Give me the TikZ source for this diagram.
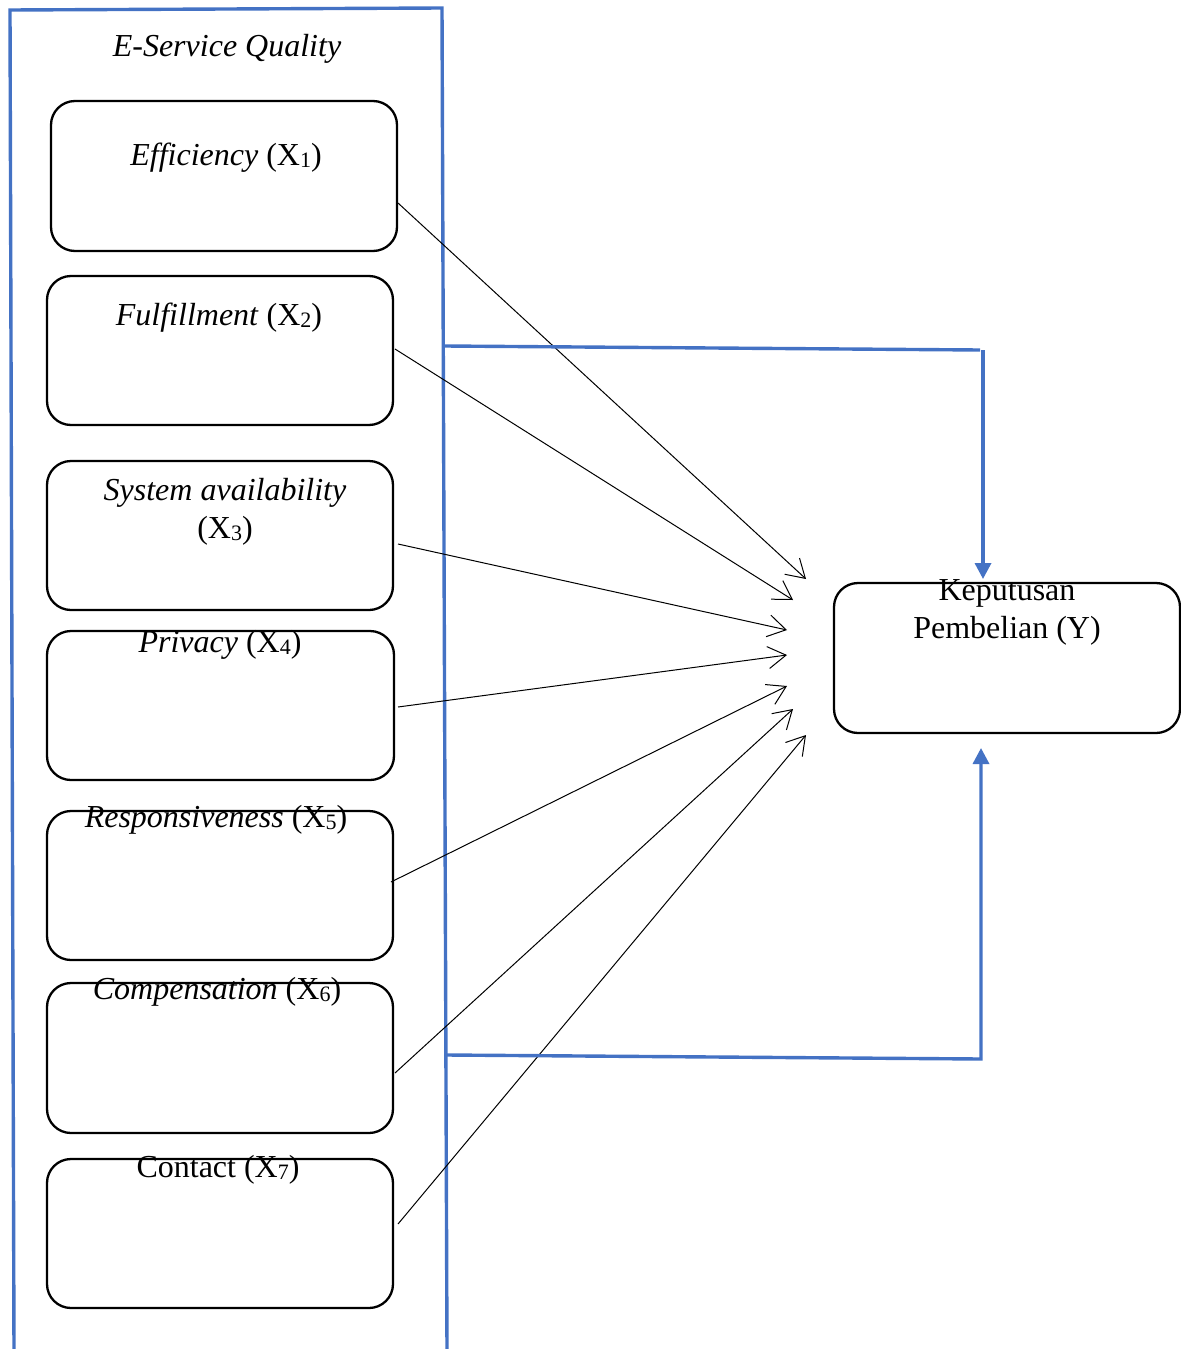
\documentclass[tikz,border=0pt]{standalone}
\usepackage{fontspec}
\setmainfont{Liberation Serif}
\usetikzlibrary{arrows.meta,calc}
\definecolor{wblue}{HTML}{4472C4}
\newcommand{\sub}[1]{\raisebox{-0.12ex}{\fontsize{11}{11}\selectfont #1}}
\begin{document}
\begin{tikzpicture}[x=0.5pt,y=-0.5pt,
  box/.style={draw,line width=1.15pt,rounded corners=12pt},
  lab/.style={font=\fontsize{16}{19}\selectfont,inner sep=0pt,anchor=center,align=center},
  link/.style={line width=0.5pt,-{Straight Barb[length=9pt,width=11pt]}},
  blue/.style={draw=wblue,line width=1.7pt},
  barrow/.style={wblue,line width=1.7pt,-{Triangle[length=8pt,width=8pt]}}]
\useasboundingbox (0,0) rectangle (1181,1349);
% frame
\draw[blue] (14,1352) -- (10,10) -- (442,8) -- (447,1352);
\node[lab] (title) at (227,49) {\itshape E-Service Quality};
% boxes
\draw[box] (51,101) rectangle (397,251) node[pos=0.5] (x1) {};
\draw[box] (47,276) rectangle (393,425) node[pos=0.5] (x2) {};
\draw[box] (47,461) rectangle (393,610) node[pos=0.5] (x3) {};
\draw[box] (47,631) rectangle (394,780) node[pos=0.5] (x4) {};
\draw[box] (47,811) rectangle (393,960) node[pos=0.5] (x5) {};
\draw[box] (47,983) rectangle (393,1133) node[pos=0.5] (x6) {};
\draw[box] (47,1159) rectangle (393,1308) node[pos=0.5] (x7) {};
\draw[box] (834,583) rectangle (1180,733) node[pos=0.5] (y) {};
% labels
\node[lab] (t1) at (226,158) {\textit{Efficiency} (X\sub{1})};
\node[lab] (t2) at (219,318) {\textit{Fulfillment} (X\sub{2})};
\node[lab] (t3) at (225,512) {\textit{System availability}\\(X\sub{3})};
\node[lab] (t4) at (220,645) {\textit{Privacy} (X\sub{4})};
\node[lab] (t5) at (216,820) {\textit{Responsiveness} (X\sub{5})};
\node[lab] (t6) at (217,992) {\textit{Compensation} (X\sub{6})};
\node[lab] (t7) at (218,1170) {Contact (X\sub{7})};
\node[lab] (ty) at (1007,612) {Keputusan\\Pembelian (Y)};
% arrow endpoints
\coordinate (s1) at (398,203); \coordinate (e1) at (806,579);
\coordinate (s2) at (395,349); \coordinate (e2) at (793,600);
\coordinate (s3) at (398,544); \coordinate (e3) at (787,630);
\coordinate (s4) at (398,707); \coordinate (e4) at (787,655);
\coordinate (s5) at (391,882); \coordinate (e5) at (787,686);
\coordinate (s6) at (395,1073); \coordinate (e6) at (793,709);
\coordinate (s7) at (398,1224); \coordinate (e7) at (806,735);
\foreach \i in {1,...,7} \draw[link] (s\i) -- (e\i);
% blue connectors
\coordinate (bt0) at (445,346); \coordinate (bt1) at (980,350);
\coordinate (bt2) at (983,350); \coordinate (bt3) at (983,579);
\coordinate (bb0) at (447,1055); \coordinate (bb1) at (981,1059);
\coordinate (bb2) at (981,748);
\draw[blue] (bt0) -- (bt1);
\draw[barrow] (bt2) -- (bt3);
\draw[barrow] (bb0) -- (bb1) -- (bb2);
\end{tikzpicture}
\end{document}
